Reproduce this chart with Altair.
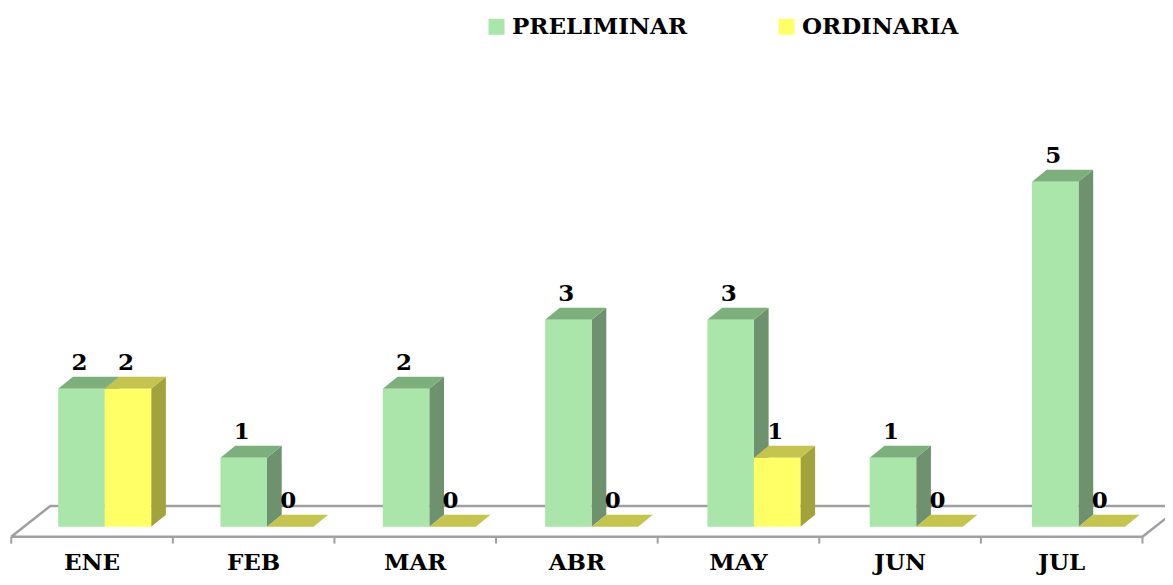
import altair as alt
import pandas as pd

# ---- data ----
months = ["ENE", "FEB", "MAR", "ABR", "MAY", "JUN", "JUL"]
series = ["PRELIMINAR", "ORDINARIA"]
preliminar = [2, 1, 2, 3, 3, 1, 5]
ordinaria = [2, 0, 0, 0, 1, 0, 0]

# ---- styling / geometry constants (data units of the two scales) ----
FRONT_COL = ["#AAE6AA", "#FFFF66"]
TOP_COL = ["#7DAF7D", "#C4C44F"]
SIDE_COL = ["#6E916E", "#A3A33E"]
FONT = "DejaVu Serif"
FS = 23

BAR_W = 0.2865          # width of one bar (category units)
DEPTH_DX = 0.0906       # 3-D depth of a bar, x component
DEPTH_DY = 0.174        # 3-D depth of a bar, y component (value units)
FRONT_DX, FRONT_DY = -0.0758, -0.145   # floor front edge relative to bar plane
FLOOR_DX, FLOOR_DY = 0.2403, 0.445     # floor depth
FRONT_STEP = 0.9957     # category step on the front edge
TICK_LEN = 0.10
LABEL_Y = -0.628

W, H = 1157, 569
xs = alt.Scale(domain=[-0.0958, 7.0329], nice=False, zero=False)
ys = alt.Scale(domain=[-0.729, 7.517], nice=False, zero=False)

values = [preliminar, ordinaria]

# ---- derived tables ----
front_rows, side_rows, top_rows, lab_rows = [], [], [], []
for s, name in enumerate(series):
    for i, m in enumerate(months):
        v = values[s][i]
        x1 = i + 0.5 - BAR_W + s * BAR_W
        x2 = x1 + BAR_W
        face = f"{name}-{m}"
        front_rows.append(dict(serie=name, s=s, x1=x1, x2=x2, v=v, base=0.0))
        side_rows += [
            dict(s=s, face=face, x=x2, y=v, y2=0.0),
            dict(s=s, face=face, x=x2 + DEPTH_DX, y=v + DEPTH_DY, y2=DEPTH_DY),
        ]
        top_rows += [
            dict(s=s, face=face, y=v, xa=x1, xb=x2),
            dict(s=s, face=face, y=v + DEPTH_DY, xa=x1 + DEPTH_DX, xb=x2 + DEPTH_DX),
        ]
        lab_rows.append(dict(s=s, x=(x1 + x2) / 2, y=v + DEPTH_DY, txt=str(v)))

front_df = pd.DataFrame(front_rows)
side_df = pd.DataFrame(side_rows)
top_df = pd.DataFrame(top_rows)
lab_df = pd.DataFrame(lab_rows)

n = len(months)
fl = (FRONT_DX, FRONT_DY)
fr = (FRONT_DX + n * FRONT_STEP, FRONT_DY)
bl = (fl[0] + FLOOR_DX, fl[1] + FLOOR_DY)
br = (fr[0] + FLOOR_DX, fr[1] + FLOOR_DY)
floor_df = pd.DataFrame(
    [dict(ord=k, x=p[0], y=p[1]) for k, p in enumerate([fl, bl, br, fr, fl])]
)
tick_df = pd.DataFrame(
    [dict(x=FRONT_DX + i * FRONT_STEP, y=FRONT_DY, y2=FRONT_DY - TICK_LEN) for i in range(n + 1)]
)
cat_df = pd.DataFrame(
    [dict(x=FRONT_DX + (i + 0.5) * FRONT_STEP, y=LABEL_Y, m=m) for i, m in enumerate(months)]
)

# ---- layers ----
floor = alt.Chart(floor_df).mark_line(color="#A0A0A0", strokeWidth=2.5, clip=True).encode(
    x=alt.X("x:Q", scale=xs, axis=None),
    y=alt.Y("y:Q", scale=ys, axis=None),
    order="ord:Q",
)
ticks = alt.Chart(tick_df).mark_rule(color="#A0A0A0", strokeWidth=2).encode(
    x=alt.X("x:Q", scale=xs, axis=None),
    y=alt.Y("y:Q", scale=ys, axis=None),
    y2="y2:Q",
)
cats = alt.Chart(cat_df).mark_text(
    font=FONT, fontSize=FS, fontWeight="bold", color="black", baseline="alphabetic"
).encode(
    x=alt.X("x:Q", scale=xs, axis=None),
    y=alt.Y("y:Q", scale=ys, axis=None),
    text="m:N",
)

color_enc = alt.Color(
    "serie:N",
    scale=alt.Scale(domain=series, range=FRONT_COL),
    legend=alt.Legend(
        title=None, orient="none", legendX=477, legendY=7, direction="horizontal",
        symbolType="square", symbolSize=256, symbolStrokeWidth=0,
        labelFont=FONT, labelFontSize=FS, labelFontWeight="bold", labelColor="black",
        labelLimit=400, labelOffset=4, columnPadding=87, padding=0,
    ),
)

bar_layers = []
for s in range(2):
    side = alt.Chart(side_df[side_df.s == s]).mark_area(fill=SIDE_COL[s], opacity=1).encode(
        x=alt.X("x:Q", scale=xs, axis=None),
        y=alt.Y("y:Q", scale=ys, axis=None, stack=None),
        y2="y2:Q",
        detail="face:N",
    )
    top = alt.Chart(top_df[top_df.s == s]).mark_area(fill=TOP_COL[s], orient="horizontal", opacity=1).encode(
        y=alt.Y("y:Q", scale=ys, axis=None),
        x=alt.X("xa:Q", scale=xs, axis=None, stack=None),
        x2="xb:Q",
        detail="face:N",
    )
    front = alt.Chart(front_df[front_df.s == s]).mark_rect().encode(
        x=alt.X("x1:Q", scale=xs, axis=None),
        x2="x2:Q",
        y=alt.Y("v:Q", scale=ys, axis=None),
        y2="base:Q",
        color=color_enc,
    )
    bar_layers += [side, top, front]

vlabels = alt.Chart(lab_df).mark_text(
    font=FONT, fontSize=FS, fontWeight="bold", color="black",
    baseline="alphabetic", dy=-7, dx=-2,
).encode(
    x=alt.X("x:Q", scale=xs, axis=None),
    y=alt.Y("y:Q", scale=ys, axis=None),
    text="txt:N",
)

chart = alt.layer(floor, ticks, *bar_layers, vlabels, cats).properties(
    width=W, height=H,
    autosize=alt.AutoSizeParams(type="none"),
    padding=0,
    background="white",
).configure_view(stroke=None)

chart.save("out.html", embed_options={"renderer": "svg", "actions": False})
